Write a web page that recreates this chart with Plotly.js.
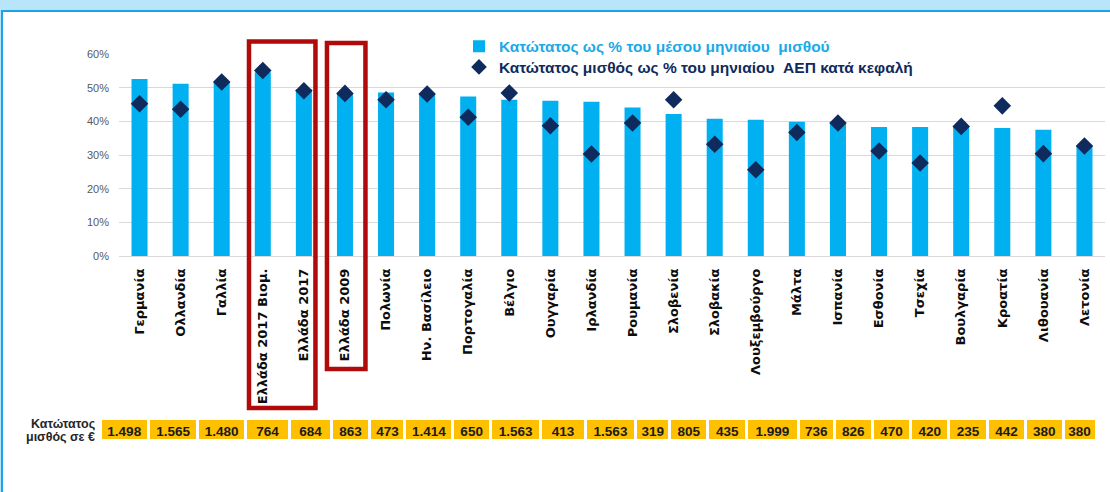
<!DOCTYPE html>
<html>
<head>
<meta charset="utf-8">
<script src="https://cdn.plot.ly/plotly-3.0.1.min.js"></script>
<style>
  html, body { margin: 0; padding: 0; background: #fff; }
  #wrap { position: relative; width: 1110px; height: 492px; background: #b8e5fa; overflow: hidden; }
  #frame { position: absolute; left: 1px; top: 10px; width: 1109px; height: 482px; box-sizing: border-box;
           border-left: 2px solid #1ca3e6; border-top: 2px solid #1ca3e6; background: #ffffff; }
  #chart { position: absolute; left: 0; top: 0; width: 1110px; height: 492px; }
</style>
</head>
<body>
<div id="wrap"><div id="frame"></div><div id="chart"></div></div>
<script>
// ---- data ----
const categories = ["Γερμανία", "Ολλανδία", "Γαλλία", "Ελλάδα 2017 Βιομ.", "Ελλάδα 2017",
  "Ελλάδα 2009", "Πολωνία", "Ην. Βασίλειο", "Πορτογαλία", "Βέλγιο", "Ουγγαρία", "Ιρλανδία",
  "Ρουμανία", "Σλοβενία", "Σλοβακία", "Λουξεμβούργο", "Μάλτα", "Ισπανία", "Εσθονία", "Τσεχία",
  "Βουλγαρία", "Κροατία", "Λιθουανία", "Λετονία"];
const pctAvgWage = [52.6, 51.2, 51.5, 54.6, 49.5, 48.3, 48.6, 48.0, 47.4, 46.4, 46.1, 45.8,
  44.1, 42.2, 40.8, 40.5, 39.9, 39.4, 38.3, 38.3, 38.3, 38.0, 37.5, 32.5];
const pctGdpPerCapita = [45.2, 43.6, 51.7, 55.1, 49.1, 48.3, 46.4, 48.1, 41.2, 48.4, 38.7, 30.3,
  39.5, 46.4, 33.2, 25.6, 36.7, 39.5, 31.2, 27.6, 38.5, 44.6, 30.4, 32.7];
const minWageEur = ["1.498", "1.565", "1.480", "764", "684", "863", "473", "1.414", "650", "1.563",
  "413", "1.563", "319", "805", "435", "1.999", "736", "826", "470", "420", "235", "442", "380", "380"];
const yTickVals = [0, 10, 20, 30, 40, 50, 60];
const yTickText = ["0%", "10%", "20%", "30%", "40%", "50%", "60%"];
const seriesNames = ["Κατώτατος ως % του μέσου μηνιαίου\u00a0\u00a0μισθού",
  "Κατώτατος μισθός ως % του μηνιαίου\u00a0\u00a0ΑΕΠ κατά κεφαλή"];
const tableLabelLines = ["Κατώτατος", "μισθός σε €"];

// ---- layout helpers (pixel -> paper) ----
const W = 1110, H = 492;
const px = p => p / W;
const py = p => 1 - p / H;
// relative widths of the table cells (as drawn in the source)
const tableColWidths = [48.1, 49.7, 47.3, 44.4, 41.6, 38.7, 35, 48, 37.5, 50.3, 44.7, 50.3,
  34.2, 38, 39, 51.3, 36.4, 37.6, 38.7, 38, 38.7, 38.1, 37.5, 33.2];

const BAR = '#00b0f0', NAVY = '#0f2a5c', RED = '#b00a0a';
const FONT = 'Liberation Sans, Arial, sans-serif';
const LABELFONT = 'DejaVu Sans, Liberation Sans, sans-serif';

const traces = [
  {
    type: 'bar', x: categories, y: pctAvgWage, name: seriesNames[0],
    marker: { color: BAR }, width: 0.39, legend: 'legend', hoverinfo: 'x+y'
  },
  {
    type: 'scatter', mode: 'markers', x: categories, y: pctGdpPerCapita, name: seriesNames[1],
    marker: { symbol: 'diamond', size: 13.5, color: NAVY }, legend: 'legend2', hoverinfo: 'x+y'
  },
  {
    type: 'table',
    domain: { x: [px(100.2), px(1096.5)], y: [py(440.5), py(418)] },
    columnwidth: tableColWidths,
    header: {
      values: minWageEur, height: 22.5, align: 'center',
      fill: { color: '#ffc000' }, line: { color: '#ffffff', width: 3 },
      font: { family: FONT, size: 13.5, color: '#1a1a1a', weight: 'bold' }
    },
    cells: { values: [], height: 0 }
  }
];

const layout = {
  width: W, height: H,
  margin: { l: 0, r: 0, t: 0, b: 0, pad: 0 },
  paper_bgcolor: 'rgba(0,0,0,0)', plot_bgcolor: 'rgba(0,0,0,0)',
  font: { family: FONT },
  xaxis: {
    domain: [px(119), px(1105)], type: 'category', range: [-0.5, 23.5],
    tickangle: -90, ticks: '', showgrid: false, showline: false, zeroline: false,
    tickfont: { family: LABELFONT, size: 13, color: '#0d0d0d', weight: 'bold' },
    ticklabelstandoff: 9, automargin: false, fixedrange: true
  },
  yaxis: {
    domain: [py(256), py(54)], range: [0, 60], tickvals: yTickVals, ticktext: yTickText,
    showgrid: true, gridcolor: '#d9d9d9', gridwidth: 1, zeroline: true, zerolinecolor: '#d9d9d9',
    showline: false, ticks: '', tickfont: { family: FONT, size: 11, color: '#595959' },
    ticklabelstandoff: 9, automargin: false, fixedrange: true
  },
  showlegend: true,
  legend: {
    x: px(459), y: py(46.7), xanchor: 'left', yanchor: 'middle', bgcolor: 'rgba(0,0,0,0)',
    borderwidth: 0, itemsizing: 'constant',
    font: { family: FONT, size: 15.5, color: '#1aaae8', weight: 'bold' }
  },
  legend2: {
    x: px(459), y: py(67.3), xanchor: 'left', yanchor: 'middle', bgcolor: 'rgba(0,0,0,0)',
    borderwidth: 0, itemsizing: 'constant',
    font: { family: FONT, size: 15.5, color: NAVY, weight: 'bold' }
  },
  shapes: [
    { type: 'rect', xref: 'x', yref: 'paper', x0: 3 - 0.336, x1: 4 + 0.282, y0: py(408), y1: py(41.5),
      line: { color: RED, width: 4.5 }, fillcolor: 'rgba(0,0,0,0)', layer: 'above' },
    { type: 'rect', xref: 'x', yref: 'paper', x0: 5 - 0.438, x1: 5 + 0.499, y0: py(369), y1: py(43),
      line: { color: RED, width: 4.5 }, fillcolor: 'rgba(0,0,0,0)', layer: 'above' }
  ],
  annotations: tableLabelLines.map((t, i) => ({
    xref: 'paper', yref: 'paper', x: px(97), y: py(424 + i * 13), xanchor: 'right', yanchor: 'middle',
    text: t, showarrow: false, align: 'right',
    font: { family: FONT, size: 12.5, color: '#262626', weight: 'bold' }
  }))
};

Plotly.newPlot('chart', traces, layout, { displayModeBar: false });
</script>
</body>
</html>
